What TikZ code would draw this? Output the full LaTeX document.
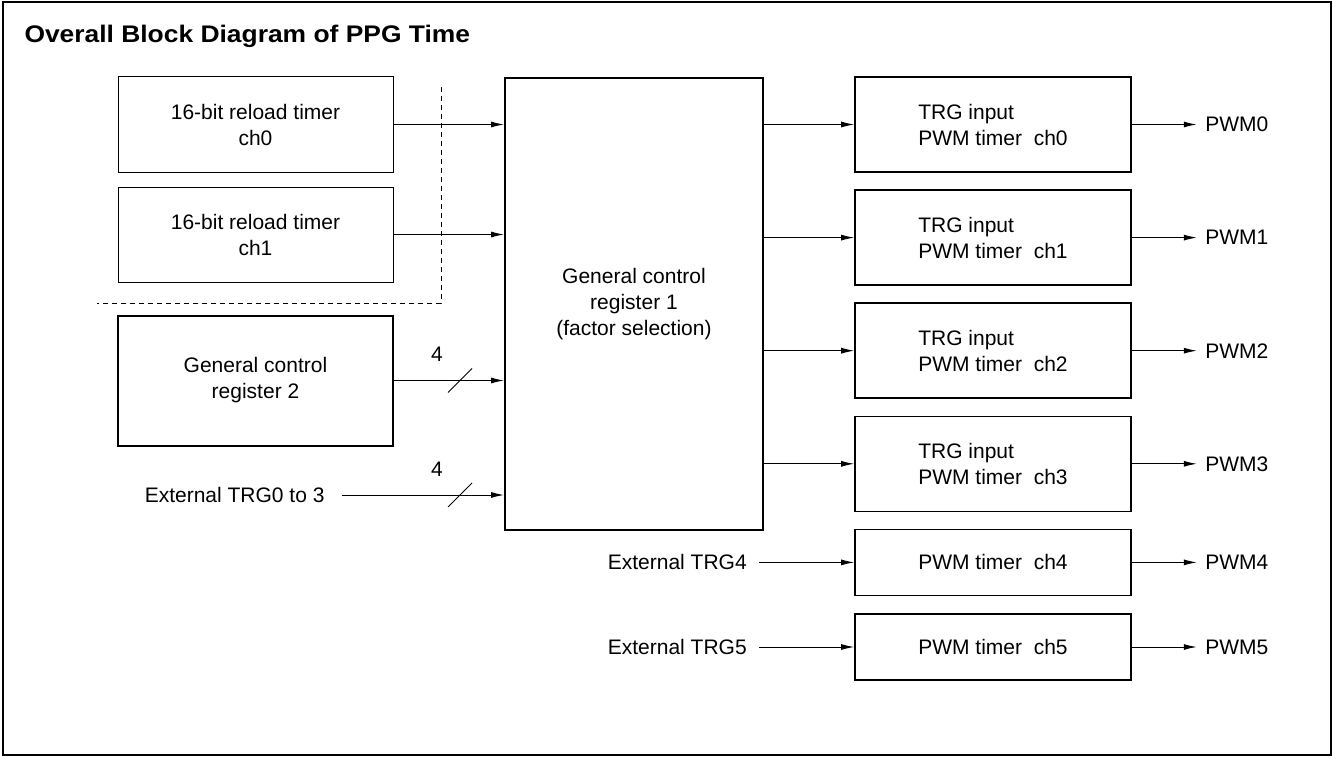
\documentclass[tikz,border=0pt]{standalone}
\usepackage{fontspec}
\setmainfont{Liberation Sans}
\newfontfamily\titlefont[FakeStretch=1.1]{Liberation Sans}
\usetikzlibrary{positioning, calc, arrows.meta}

\tikzset{
  timerbox/.style={draw, line width=1pt, minimum width=275pt, minimum height=95pt, align=center, inner sep=0pt},
  trgbox/.style={draw, line width=1.6pt, minimum width=276pt, minimum height=95pt, align=left, inner sep=0pt},
  regbox/.style={draw, line width=2pt, align=center, inner sep=0pt},
  sig/.style={inner ysep=0pt},
}

\begin{document}
\begin{tikzpicture}[x=1pt, y=1pt, font=\fontsize{21}{26}\selectfont, >={Latex[length=13pt,width=6pt]}, line width=1pt]

\useasboundingbox (0,0) rectangle (1333,-757);
\draw[line width=1.5pt] (3,-2) rectangle (1331,-755);

\node[anchor=base west, inner sep=0pt] (title) at (24,-43) {\titlefont\bfseries\fontsize{24}{28}\selectfont Overall Block Diagram of PPG Time};

% sources
\node[timerbox] (timer0) at (255.5,-124.5) {16-bit reload timer\\ch0};
\node[timerbox, below=14pt of timer0] (timer1) {16-bit reload timer\\ch1};
\node[regbox, minimum width=275pt, minimum height=130pt, below=32pt of timer1] (gcr2) {General control\\register 2};
\node[sig, anchor=east, inner xsep=17pt] (ext03) at (342,-495) {External TRG0 to 3};

\draw[dashed, dash pattern=on 5pt off 4pt, line width=0.8pt] (441,-87) -- (441,-303) -- (97,-303);

\node[regbox, anchor=north west, minimum width=258pt, minimum height=452pt] (main) at (504,-77) {General control\\register 1\\(factor selection)};

% timers
\node[trgbox] (trg0) at (993,-124.5) {TRG input\\PWM timer~~ch0};
\node[trgbox, below=16.5pt of trg0] (trg1) {TRG input\\PWM timer~~ch1};
\node[trgbox, below=16.5pt of trg1] (trg2) {TRG input\\PWM timer~~ch2};
\node[trgbox, below=16.5pt of trg2] (trg3) {TRG input\\PWM timer~~ch3};
\node[trgbox, minimum height=66pt, below=16.5pt of trg3] (pwmt4) {PWM timer~~ch4};
\node[trgbox, minimum height=66pt, below=17pt of pwmt4] (pwmt5) {PWM timer~~ch5};

\node[sig, inner xsep=12pt, left=95pt of pwmt4] (ext4) {External TRG4};
\node[sig, inner xsep=12pt, left=95pt of pwmt5] (ext5) {External TRG5};

\node[sig, inner xsep=8pt, right=65pt of trg0] (pwm0) {PWM0};
\node[sig, inner xsep=8pt, right=65pt of trg1] (pwm1) {PWM1};
\node[sig, inner xsep=8pt, right=65pt of trg2] (pwm2) {PWM2};
\node[sig, inner xsep=8pt, right=65pt of trg3] (pwm3) {PWM3};
\node[sig, inner xsep=8pt, right=65pt of pwmt4] (pwm4) {PWM4};
\node[sig, inner xsep=8pt, right=65pt of pwmt5] (pwm5) {PWM5};

% inputs
\draw[->] (timer0.east) -- (main.west |- timer0.east);
\draw[->] (timer1.east) -- (main.west |- timer1.east);
\draw[->] (gcr2.east) -- (main.west |- gcr2.east);
\draw[->] (ext03.east) -- (main.west |- ext03.east);

% 4-bit buses
\coordinate (bus1) at ($(main.west |- gcr2.east)+(-44,0)$);
\coordinate (bus2) at ($(main.west |- ext03.east)+(-44,0)$);
\draw (bus1) +(-12,-12) -- +(12,12);
\draw (bus2) +(-12,-12) -- +(12,12);
\node (width1) at ($(bus1)+(-23,26)$) {4};
\node (width2) at ($(bus2)+(-23,26)$) {4};

% triggers
\draw[->] (main.east |- trg0.west) -- (trg0.west);
\draw[->] (main.east |- trg1.west) -- (trg1.west);
\draw[->] (main.east |- trg2.west) -- (trg2.west);
\draw[->] (main.east |- trg3.west) -- (trg3.west);
\draw[->] (ext4) -- (pwmt4);
\draw[->] (ext5) -- (pwmt5);

% outputs
\draw[->] (trg0) -- (pwm0);
\draw[->] (trg1) -- (pwm1);
\draw[->] (trg2) -- (pwm2);
\draw[->] (trg3) -- (pwm3);
\draw[->] (pwmt4) -- (pwm4);
\draw[->] (pwmt5) -- (pwm5);

\end{tikzpicture}
\end{document}
